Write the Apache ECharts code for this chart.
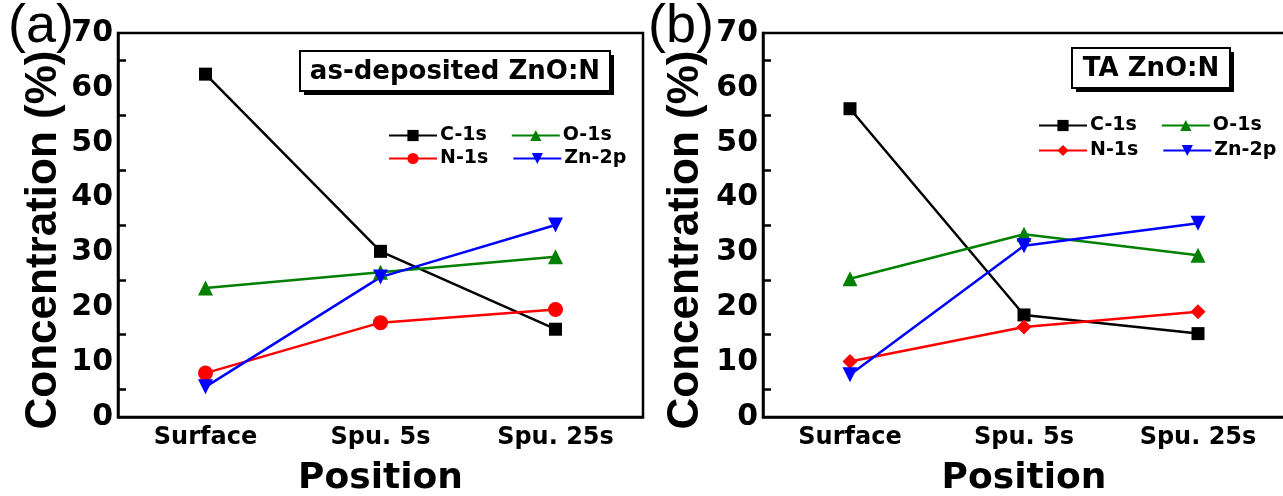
<!DOCTYPE html>
<html>
<head>
<meta charset="utf-8">
<script src="https://cdn.jsdelivr.net/npm/echarts@6/dist/echarts.min.js"></script>
<style>
  html, body { margin: 0; padding: 0; background: #fff; }
  #chart { width: 1283px; height: 496px; }
</style>
</head>
<body>
<div id="chart"></div>
<script>
// categories along the x axis
const positions = ['Surface', 'Spu. 5s', 'Spu. 25s']
const yTicks = [0, 10, 20, 30, 40, 50, 60, 70]

// (a) as-deposited ZnO:N
const asC = [62.5, 30.2, 16.0]
const asO = [23.5, 26.4, 29.2]
const asN = [8.0, 17.2, 19.6]
const asZn = [5.5, 25.5, 35.0]

// (b) TA ZnO:N
const taC = [56.2, 18.6, 15.2]
const taO = [25.2, 33.3, 29.5]
const taN = [10.1, 16.4, 19.2]
const taZn = [7.7, 31.2, 35.3]

const chart = echarts.init(document.getElementById('chart'))

const tickFont = 'DejaVu Sans'

function xAx(gridIndex) {
  return {
    type: 'category', gridIndex: gridIndex, data: positions, boundaryGap: true,
    name: 'Position', nameLocation: 'middle', nameGap: 44,
    nameTextStyle: { fontFamily: tickFont, fontWeight: 'bold', fontSize: 36, color: '#000' },
    axisLine: { lineStyle: { color: '#000', width: 2.5 } },
    axisTick: { inside: true, alignWithLabel: true, length: 10, lineStyle: { width: 2.5, color: '#000' } },
    axisLabel: { fontFamily: tickFont, fontWeight: 'bold', fontSize: 24, color: '#000', margin: 9 },
    splitLine: { show: false }
  }
}

function yAx(gridIndex) {
  return {
    type: 'value', gridIndex: gridIndex,
    min: yTicks[0], max: yTicks[yTicks.length - 1], interval: 10,
    axisLine: { show: true, lineStyle: { color: '#000', width: 2.5 } },
    axisTick: { inside: true, length: 14, lineStyle: { width: 2.5, color: '#000' } },
    minorTick: { show: true, splitNumber: 2, length: 8, lineStyle: { width: 2.5, color: '#000' } },
    axisLabel: { fontFamily: tickFont, fontWeight: 'bold', fontSize: 30, color: '#000', margin: 5 },
    splitLine: { show: false }
  }
}

function line(name, data, color, symbol, idx, rotate) {
  return {
    name: name, type: 'line', data: data, xAxisIndex: idx, yAxisIndex: idx,
    color: color, symbol: symbol, symbolSize: symbol === 'rect' ? 13 : 15,
    symbolRotate: rotate || 0,
    lineStyle: { width: 2.5, color: color }, itemStyle: { color: color },
    animation: false
  }
}

function legendRow(names, left, top) {
  return {
    data: names, left: left, top: top, orient: 'horizontal',
    itemWidth: 48, itemHeight: 14, itemGap: 24, selectedMode: false,
    formatter: n => n.split(':')[1],
    textStyle: { fontFamily: tickFont, fontWeight: 'bold', fontSize: 19, color: '#000', padding: [0, 0, 0, -2] }
  }
}

function titleBox(x, y, w, h, text, size) {
  return {
    type: 'group', children: [
      { type: 'rect', shape: { x: x + 4, y: y + 4, width: w, height: h }, style: { fill: '#000' } },
      { type: 'rect', shape: { x: x, y: y, width: w, height: h }, style: { fill: '#fff', stroke: '#000', lineWidth: 2 } },
      { type: 'text', x: x + w / 2, y: y + h / 2 + 1, style: { text: text, fontFamily: tickFont, fontWeight: 'bold', fontSize: size, fill: '#000', align: 'center', verticalAlign: 'middle' } }
    ]
  }
}

function yName(x) {
  return {
    type: 'text', x: x, y: 240, rotation: Math.PI / 2,
    style: { text: 'Concentration (%)', fontFamily: 'Liberation Sans', fontWeight: 'bold', fontSize: 44, fill: '#000', align: 'center', verticalAlign: 'middle' }
  }
}

chart.setOption({
  backgroundColor: '#fff',
  animation: false,
  grid: [
    { left: 118, top: 33, width: 525, height: 384, outerBoundsMode: 'none', show: true, borderColor: '#000', borderWidth: 2.5 },
    { left: 763, top: 33, width: 522, height: 384, outerBoundsMode: 'none', show: true, borderColor: '#000', borderWidth: 2.5 }
  ],
  xAxis: [xAx(0), xAx(1)],
  yAxis: [yAx(0), yAx(1)],
  legend: [
    legendRow(['a:C-1s', 'a:O-1s'], 383, 121),
    legendRow(['a:N-1s', 'a:Zn-2p'], 383, 144),
    legendRow(['b:C-1s', 'b:O-1s'], 1033, 111),
    legendRow(['b:N-1s', 'b:Zn-2p'], 1033, 136)
  ],
  series: [
    line('a:C-1s', asC, '#000000', 'rect', 0),
    line('a:N-1s', asN, '#ff0000', 'circle', 0),
    line('a:O-1s', asO, '#008000', 'triangle', 0),
    line('a:Zn-2p', asZn, '#0000ff', 'triangle', 0, 180),
    line('b:C-1s', taC, '#000000', 'rect', 1),
    line('b:N-1s', taN, '#ff0000', 'diamond', 1),
    line('b:O-1s', taO, '#008000', 'triangle', 1),
    line('b:Zn-2p', taZn, '#0000ff', 'triangle', 1, 180)
  ],
  graphic: [
    titleBox(300, 51, 310, 40, 'as-deposited ZnO:N', 26),
    titleBox(1072, 48, 158, 40, 'TA ZnO:N', 26),
    yName(44),
    yName(686),
    { type: 'text', x: 8, y: 0, style: { text: '(a)', fontFamily: 'Liberation Sans', fontSize: 54, fill: '#000' } },
    { type: 'text', x: 648, y: 0, style: { text: '(b)', fontFamily: 'Liberation Sans', fontSize: 54, fill: '#000' } }
  ]
})
</script>
</body>
</html>
